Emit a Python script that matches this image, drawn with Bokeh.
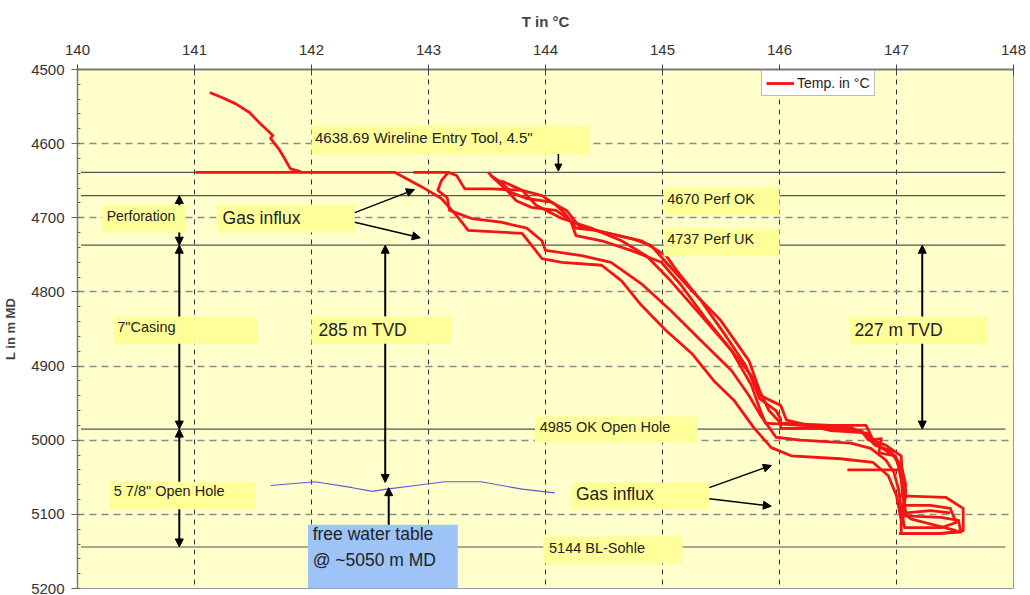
from bokeh.plotting import figure
from bokeh.models import Range1d, Legend, LegendItem, Arrow, NormalHead, FixedTicker
from bokeh.core.properties import value
from bokeh.embed import file_html
from bokeh.resources import INLINE

# ---- axes -------------------------------------------------------------
t_ticks = [140, 141, 142, 143, 144, 145, 146, 147, 148]
d_ticks = [4500, 4600, 4700, 4800, 4900, 5000, 5100, 5200]

# ---- well markers (depth, m MD) ----------------------------------------
marker_depths = [4638.69, 4670, 4737, 4985, 5144]

# ---- temperature logs (T in degC, depth in m MD) -----------------------
run_a_t = [141.13, 141.24, 141.35, 141.47, 141.55, 141.65, 141.67, 141.65, 141.72, 141.77, 141.82, 141.89, 141.92]
run_a_d = [4531, 4538, 4546, 4558, 4571, 4586, 4589, 4593, 4607, 4620, 4634, 4637, 4639]

run_b_t = [141.01, 142.71, 142.94, 143.11, 143.24, 143.34, 143.80, 143.88, 143.97, 144.14, 144.48, 144.65, 144.82,
           145.03, 145.25, 145.44, 145.61, 145.78, 145.93, 146.10, 146.52, 146.80, 146.93, 147.00, 147.04, 147.04,
           147.33, 147.55, 147.53, 147.38, 147.06]
run_b_d = [4638.69, 4638.69, 4658, 4674, 4697, 4717, 4721, 4737, 4755, 4760, 4764, 4785, 4818,
           4852, 4883, 4920, 4946, 4983, 5010, 5021, 5025, 5030, 5048, 5075, 5108, 5126,
           5126, 5124, 5108, 5104, 5102]

run_c_t = [142.87, 143.17, 143.11, 143.08, 143.16, 143.18, 143.37, 143.62, 143.84, 143.97, 144.00, 144.31, 144.56,
           144.82, 145.07, 145.33, 145.59, 145.74, 145.84, 145.97, 146.18, 146.61, 146.78, 146.91, 146.98, 147.02,
           147.04, 147.07, 147.38, 147.51, 147.46, 147.29, 147.05]
run_c_d = [4638.69, 4638.69, 4650, 4663, 4673, 4690, 4701, 4706, 4714, 4731, 4744, 4751, 4760,
           4789, 4825, 4866, 4906, 4940, 4967, 4996, 5000, 5004, 5011, 5027, 5044, 5068,
           5095, 5118, 5118, 5111, 5092, 5088, 5088]

run_d_t = [143.17, 143.24, 143.31, 143.54, 143.80, 143.97, 144.09, 144.16, 144.22, 144.26, 144.48, 144.73, 144.99,
           145.16, 145.37, 145.59, 145.76, 145.83, 145.88, 146.18, 146.61, 146.71, 146.82, 146.95, 147.01, 147.04,
           147.06, 147.08, 147.29, 147.46]
run_d_d = [4638.69, 4643, 4661, 4661, 4663, 4670, 4683, 4693, 4706, 4724, 4731, 4744, 4760,
           4791, 4836, 4879, 4926, 4957, 4977, 4980, 4983, 4990, 5007, 5014, 5030, 5054,
           5081, 5098, 5095, 5098]

run_e_t = [143.51, 143.56, 143.67, 143.75, 143.88, 144.09, 144.22, 144.26, 144.43, 144.73, 144.90, 145.03, 145.25,
           145.50, 145.74, 145.83, 145.91, 146.01, 146.44, 146.74, 146.80, 146.91, 147.04, 147.05, 147.08, 147.04,
           147.12, 147.51]
run_e_d = [4638.69, 4647, 4663, 4677, 4686, 4690, 4704, 4714, 4717, 4728, 4737, 4760, 4798,
           4839, 4893, 4933, 4960, 4977, 4980, 4980, 5000, 5007, 5021, 5048, 5075, 5095,
           5106, 5122]

run_f_t = [143.53, 143.62, 143.71, 143.84, 144.05, 144.18, 144.29, 144.43, 144.82, 145.03, 145.12, 145.33, 145.54,
           145.71, 145.77, 145.83, 145.97, 146.01, 146.01, 146.35, 146.70, 146.76, 146.87, 146.85, 146.99, 147.04,
           147.08, 147.05]
run_f_d = [4643, 4652, 4666, 4674, 4679, 4690, 4712, 4717, 4731, 4751, 4771, 4812, 4859,
           4899, 4920, 4944, 4960, 4971, 4984, 4984, 4987, 5000, 4998, 5017, 5021, 5041,
           5068, 5115]

run_g_t = [143.62, 143.80, 143.92, 144.14, 144.39, 144.65, 144.86, 145.07, 145.33, 145.59, 145.78, 145.84, 146.01,
           146.06, 146.44, 146.74, 146.87, 146.98, 147.04, 147.08, 147.04, 147.42, 147.57, 147.57, 147.38, 147.02]
run_g_d = [4650, 4663, 4683, 4701, 4714, 4731, 4751, 4785, 4832, 4879, 4917, 4940, 4953,
           4973, 4987, 4990, 5010, 5021, 5034, 5061, 5075, 5077, 5092, 5122, 5126, 5126]

run_h_t = [146.58, 147.04]
run_h_d = [5040, 5040]

runs = [(run_a_t, run_a_d), (run_b_t, run_b_d), (run_c_t, run_c_d), (run_d_t, run_d_d),
        (run_e_t, run_e_d), (run_f_t, run_f_d), (run_g_t, run_g_d), (run_h_t, run_h_d)]

# ---- free water table ---------------------------------------------------
water_t = [141.65, 142.03, 142.35, 142.52, 142.64, 142.94, 143.14, 143.45, 143.80, 144.08]
water_d = [5061, 5056, 5064, 5069, 5066, 5060, 5056, 5056, 5066, 5071]

FONT = "Liberation Sans"
BG = "#FFFFCC"
NOTE = "#FFFF99"
RED = "#F51414"

p = figure(width=1030, height=595, output_backend="svg", toolbar_location=None,
           x_axis_location="above", x_range=Range1d(140, 148), y_range=Range1d(5200, 4500),
           min_border_left=75, min_border_right=17, min_border_top=69, min_border_bottom=7)
p.background_fill_color = BG
p.border_fill_color = "white"
p.outline_line_color = "#999999"

# axes
xa = p.xaxis[0]
xa.ticker = FixedTicker(ticks=t_ticks)
xa.axis_label = "T in °C"
xa.axis_label_text_font = FONT
xa.axis_label_text_font_style = "bold"
xa.axis_label_text_font_size = "15px"
xa.axis_label_standoff = 12
xa.major_label_text_font = FONT
xa.major_label_text_font_size = "15px"
xa.major_label_text_color = "#333333"
xa.major_label_standoff = 10
xa.axis_line_color = "#7a7a7a"
xa.axis_line_width = 2
xa.major_tick_in = 6
xa.major_tick_out = 5
xa.major_tick_line_color = "#444444"
xa.minor_tick_line_color = None

ya = p.yaxis[0]
ya.ticker = FixedTicker(ticks=d_ticks, minor_ticks=list(range(4500, 5201, 20)))
ya.axis_label = "L in m MD"
ya.axis_label_text_font = FONT
ya.axis_label_text_font_style = "bold"
ya.axis_label_text_font_size = "13px"
ya.axis_label_standoff = 10
ya.major_label_text_font = FONT
ya.major_label_text_font_size = "15px"
ya.major_label_text_color = "#333333"
ya.major_label_standoff = 7
ya.axis_line_color = "#7a7a7a"
ya.axis_line_width = 1.5
ya.major_tick_in = 0
ya.major_tick_out = 6
ya.major_tick_line_color = "#666666"
ya.minor_tick_in = 3
ya.minor_tick_out = 0
ya.minor_tick_line_color = "#666666"

p.xgrid.grid_line_color = "#333333"
p.xgrid.grid_line_dash = "5 5"
p.xgrid.grid_line_width = 1
p.ygrid.grid_line_color = "#8a8a8a"
p.ygrid.grid_line_dash = "7 5"
p.ygrid.grid_line_width = 1.5

# marker depths
p.segment(x0=140.03, x1=147.93, y0=marker_depths, y1=marker_depths, line_color="#555555", line_width=1.2)

# temperature runs
red_renderers = []
for t, d in runs:
    red_renderers.append(p.line(t, d, line_color=RED, line_width=2.8, line_join="round"))

# free water table
p.line(water_t, water_d, line_color="#6455e0", line_width=1.1)


def note(left, right, top, bottom, text, tx, ty, size, fill=NOTE):
    p.quad(left=left, right=right, top=top, bottom=bottom, fill_color=fill, line_color=None)
    p.text(x=[tx], y=[ty], text=[text], text_font=value(FONT), text_font_size=size,
           text_baseline="middle", text_align="left", text_color="#222222", text_line_height=1.3)


note(142.00, 144.38, 4575.5, 4614.6, '4638.69 Wireline Entry Tool, 4.5"', 142.03, 4592, "15px")
note(145.01, 146.00, 4659, 4697, "4670 Perf OK", 145.04, 4674, "14.5px")
note(145.01, 146.00, 4714, 4752, "4737 Perf UK", 145.04, 4728, "14.5px")
note(140.21, 140.92, 4683, 4720, "Perforation", 140.25, 4698, "14px")
note(141.19, 142.37, 4683, 4720, "Gas influx", 141.24, 4700, "17.5px")
note(140.31, 141.54, 4833, 4870, '7"Casing', 140.34, 4847, "14.5px")
note(142.00, 143.20, 4833, 4870, "285 m TVD", 142.06, 4851, "17.5px")
note(146.60, 147.78, 4833, 4870, "227 m TVD", 146.64, 4851, "17.5px")
note(140.27, 141.52, 5056, 5093, '5 7/8" Open Hole', 140.31, 5069, "14.5px")
note(143.91, 145.30, 4968, 5003, "4985 OK Open Hole", 143.95, 4982, "14.5px")
note(144.22, 145.40, 5057, 5093, "Gas influx", 144.26, 5072, "17.5px")
note(143.98, 145.17, 5130, 5166, "5144 BL-Sohle", 144.03, 5145, "14.5px")
note(141.97, 143.25, 5114, 5200, "free water table\n@ ~5050 m MD", 142.01, 5144, "17.5px", fill="#9DC3F7")


def arrow(x0, y0, x1, y1, width=2.0, size=8):
    p.add_layout(Arrow(end=NormalHead(size=size, fill_color="black", line_color="black", line_width=1),
                       x_start=x0, y_start=y0, x_end=x1, y_end=y1,
                       line_color="black", line_width=width))


# tool entry
arrow(144.11, 4614, 144.11, 4637, width=1.5, size=7)
# gas influx (upper)
arrow(142.37, 4693, 142.88, 4662, width=1.5)
arrow(142.37, 4706, 142.93, 4727, width=1.5)
# perforation interval
arrow(140.87, 4683, 140.87, 4670)
arrow(140.87, 4720, 140.87, 4737)
# 7" casing
arrow(140.87, 4833, 140.87, 4737)
arrow(140.87, 4870, 140.87, 4985)
# 5 7/8" open hole
arrow(140.87, 5056, 140.87, 4985)
arrow(140.87, 5093, 140.87, 5144)
# 285 m TVD
arrow(142.63, 4833, 142.63, 4737)
arrow(142.63, 4870, 142.63, 5057)
# free water table
arrow(142.66, 5114, 142.66, 5064)
# 227 m TVD
arrow(147.22, 4833, 147.22, 4737)
arrow(147.22, 4870, 147.22, 4985)
# gas influx (lower)
arrow(145.40, 5064, 145.93, 5034, width=1.5)
arrow(145.40, 5079, 145.93, 5089, width=1.5)

legend = Legend(items=[LegendItem(label="Temp. in °C", renderers=[red_renderers[0]])],
                location=(684, 492), label_text_font=FONT, label_text_font_size="14px",
                label_text_color="#222222", glyph_width=28, glyph_height=12, label_height=13,
                label_standoff=3, padding=4, spacing=0, margin=0,
                border_line_color="#777777", background_fill_color="white", background_fill_alpha=1)
p.add_layout(legend)

open("out.html", "w").write(file_html(p, INLINE))
